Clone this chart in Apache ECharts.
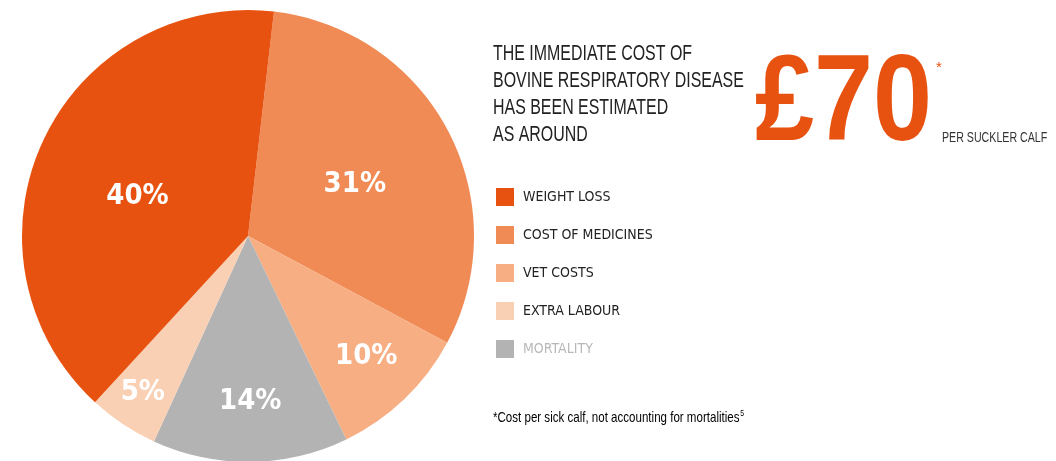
<!DOCTYPE html>
<html><head><meta charset="utf-8">
<script src="https://cdn.jsdelivr.net/npm/echarts@6/dist/echarts.min.js"></script>
<style>html,body{margin:0;padding:0;background:#fff}#c{width:1056px;height:461px}</style>
</head><body><div id="c"></div>
<script>
// ---- data ----
const categories = ['COST OF MEDICINES', 'VET COSTS', 'MORTALITY', 'EXTRA LABOUR', 'WEIGHT LOSS'];
const values = [31, 10, 14, 5, 40];
const legendOrder = ['WEIGHT LOSS', 'COST OF MEDICINES', 'VET COSTS', 'EXTRA LABOUR', 'MORTALITY'];
const titleLines = ['THE IMMEDIATE COST OF', 'BOVINE RESPIRATORY DISEASE', 'HAS BEEN ESTIMATED', 'AS AROUND'];
const headlineValue = '£70';
const headlineUnit = 'PER SUCKLER CALF';
const footnote = '*Cost per sick calf, not accounting for mortalities';
const footnoteRef = '5';

// ---- styles ----
const COLORS = {
  'WEIGHT LOSS': '#E85210',
  'COST OF MEDICINES': '#F08B55',
  'VET COSTS': '#F7AE83',
  'EXTRA LABOUR': '#F9D0B4',
  'MORTALITY': '#B3B3B3'
};
const COND = '"DejaVu Sans Condensed", "Liberation Sans Narrow", sans-serif';
const ARIAL = '"Liberation Sans", Arial, sans-serif';
const CX = 248, CY = 236, R = 226;
// label offsets (px) from the default mid-radius position, per slice
const LABEL_OFFSET = [[4, 2], [38, 37], [1, 49], [-41, 60], [-5, 9]];

const chart = echarts.init(document.getElementById('c'), null, {renderer: 'canvas'});
chart.setOption({
  animation: false,
  legend: {
    orient: 'vertical', left: 496, top: 188, padding: 0,
    itemWidth: 18, itemHeight: 18, itemGap: 20, icon: 'rect',
    selectedMode: false,
    textStyle: {fontFamily: COND, fontSize: 14, color: '#222', padding: [2, 0, 0, 4]},
    data: legendOrder.map(n => ({name: n, textStyle: n === 'MORTALITY' ? {color: '#B8B8B8'} : {}}))
  },
  series: [{
    type: 'pie',
    center: [CX, CY], radius: R,
    startAngle: 83.4, clockwise: true,
    silent: true,
    label: {
      show: true, position: 'inner', formatter: '{c}%',
      color: '#fff', fontFamily: COND, fontWeight: 'bold', fontSize: 29
    },
    labelLine: {show: false},
    labelLayout: function (p) {
      const o = LABEL_OFFSET[p.dataIndex];
      return {dx: o[0], dy: o[1]};
    },
    itemStyle: {borderWidth: 0},
    data: categories.map((n, i) => ({name: n, value: values[i], itemStyle: {color: COLORS[n]}}))
  }],
  graphic: [
    {type: 'text', x: 493, y: 40, scaleX: 0.725, style: {
      text: titleLines.join('\n'), font: '22px ' + ARIAL, lineHeight: 27, fill: '#222'}},
    {type: 'text', x: 755, y: 45, scaleX: 0.87, style: {
      text: headlineValue, font: 'bold 122px ' + ARIAL, fill: '#E85210'}},
    {type: 'text', x: 936, y: 60, style: {
      text: '*', font: '15px ' + ARIAL, fill: '#E85210'}},
    {type: 'text', x: 942, y: 131, scaleX: 0.76, style: {
      text: headlineUnit, font: '14px ' + ARIAL, fill: '#333'}},
    {type: 'text', x: 493, y: 409, scaleX: 0.77, style: {
      text: '{a|' + footnote + '}{s|' + footnoteRef + '}',
      rich: {a: {fontFamily: ARIAL, fontSize: 15, color: '#222'},
             s: {fontFamily: ARIAL, fontSize: 9, color: '#222', verticalAlign: 'top', padding: [0, 0, 8, 1]}}}}
  ]
});
</script></body></html>
